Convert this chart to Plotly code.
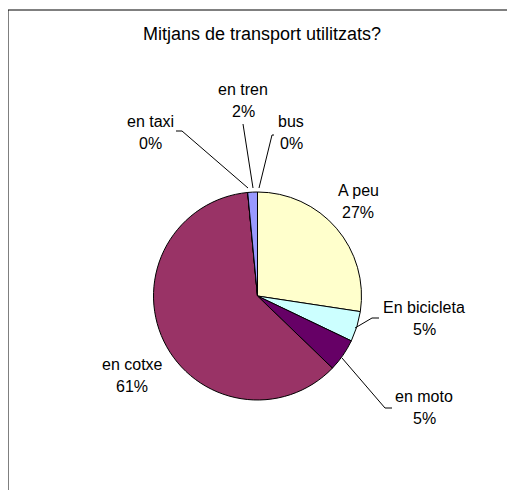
import plotly.graph_objects as go

# ---- data ----
categories = ["A peu", "En bicicleta", "en moto", "en cotxe", "en taxi", "en tren", "bus"]
values = [27.4, 4.7, 5.1, 61.3, 0.0, 1.5, 0.0]
colors = ["#FFFFCC", "#CCFFFF", "#660066", "#993366", "#FF8080", "#9999FF", "#0066CC"]
title_text = "Mitjans de transport utilitzats?"

# label placement (page pixel coords of the text centres: name line, percent line)
label_pos = {
    "A peu": (358, 190, 212),
    "En bicicleta": (424, 307, 329),
    "en moto": (424, 396, 418),
    "en cotxe": (132, 364, 386),
    "en taxi": (150, 121, 143),
    "en tren": (243, 89, 111),
    "bus": (291, 121, 143),
}
# leader lines (page pixel coords)
leaders = {
    "En bicicleta": [(379, 318), (372, 318), (355, 328)],
    "en moto": [(392, 408), (385, 408), (342, 358)],
    "en taxi": [(176, 131), (182, 131), (248, 188)],
    "en tren": [(243, 124), (253, 188)],
    "bus": [(274, 135), (272, 135), (259, 188)],
}

W, H = 515, 490
OFF = 8  # page body margin
cx, cy, r = 257.5, 296, 104

total = sum(values)
pcts = [int(v / total * 100 + 0.5) for v in values]

fig = go.Figure()
fcx, fcy = cx - OFF, cy - OFF
fig.add_trace(go.Pie(
    labels=categories,
    values=values,
    sort=False,
    direction="clockwise",
    rotation=0,
    marker=dict(colors=colors, line=dict(color="#000000", width=1)),
    textinfo="none",
    hoverinfo="label+percent",
    showlegend=False,
    domain=dict(x=[(fcx - r) / W, (fcx + r) / W], y=[(H - fcy - r) / H, (H - fcy + r) / H]),
))

font = dict(family="Liberation Sans, Arial, sans-serif", size=16, color="#000000")
annotations = [dict(x=262, y=34, text=title_text, showarrow=False, xref="x", yref="y",
                    font=dict(family="Liberation Sans, Arial, sans-serif", size=18, color="#000000"))]
for cat, p in zip(categories, pcts):
    x, y1, y2 = label_pos[cat]
    annotations.append(dict(x=x, y=y1, text=cat, showarrow=False, xref="x", yref="y", font=font))
    annotations.append(dict(x=x, y=y2, text=f"{p}%", showarrow=False, xref="x", yref="y", font=font))

shapes = [dict(type="rect", xref="x", yref="y", x0=8, y0=10, x1=540, y1=520,
               line=dict(color="#000000", width=1), layer="below")]
for cat, pts in leaders.items():
    path = "M " + " L ".join(f"{x},{y}" for x, y in pts)
    shapes.append(dict(type="path", path=path, xref="x", yref="y",
                       line=dict(color="#000000", width=1)))

fig.update_layout(
    width=W, height=H,
    margin=dict(l=0, r=0, t=0, b=0),
    paper_bgcolor="#FFFFFF", plot_bgcolor="rgba(0,0,0,0)",
    xaxis=dict(range=[OFF, W + OFF], visible=False, fixedrange=True),
    yaxis=dict(range=[H + OFF, OFF], visible=False, fixedrange=True),
    annotations=annotations,
    shapes=shapes,
)
fig.write_html("out.html")
